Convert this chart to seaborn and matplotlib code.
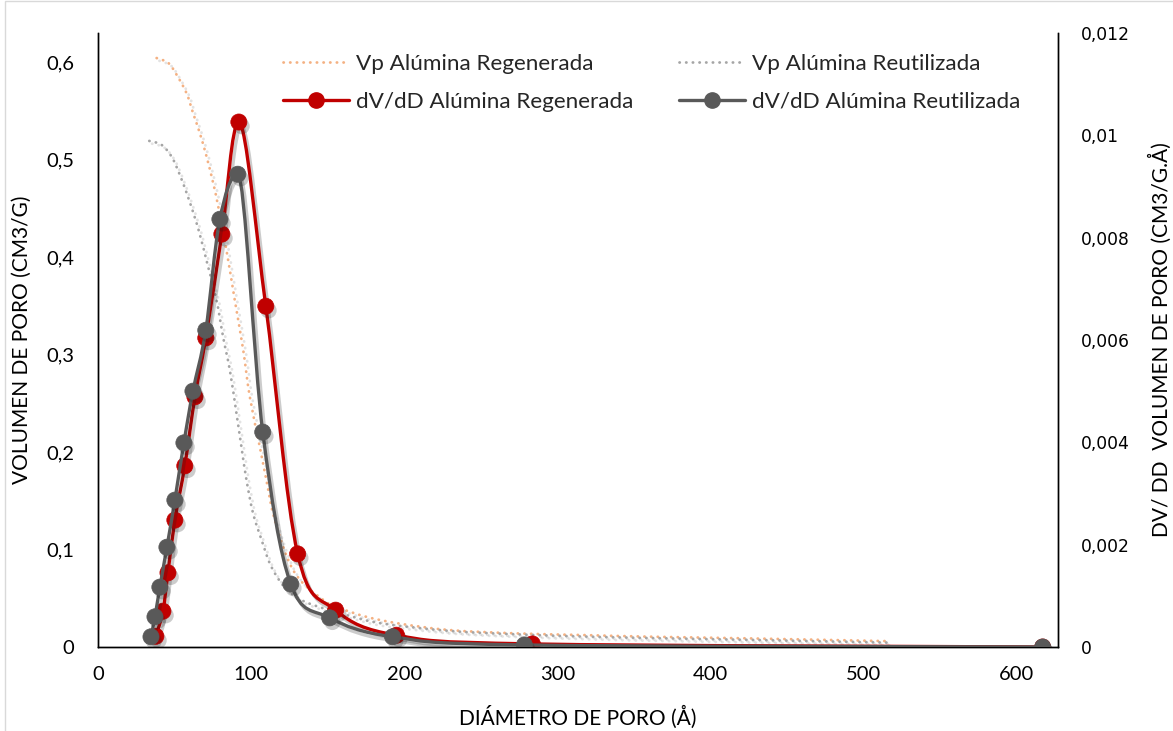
import numpy as np
import pandas as pd
import matplotlib
matplotlib.use("Agg")
import matplotlib.pyplot as plt
import matplotlib.patheffects as pe
from matplotlib.path import Path
from matplotlib.patches import PathPatch, Rectangle
from matplotlib.lines import Line2D
from matplotlib.ticker import FixedLocator, FuncFormatter
import seaborn as sns

# ---- pore size distribution, dV/dD (cm3/g.Å) vs pore diameter (Å) ----
d_regen = [37.8, 42.4, 45.7, 50.2, 56.7, 63.3, 70.4, 80.9, 92.0, 109.6, 130.4,
           155.2, 195.0, 283.7, 617.0]
dvdd_regen = [0.00021, 0.00070, 0.00145, 0.00248, 0.00354, 0.00489, 0.00604,
              0.00807, 0.01026, 0.00666, 0.00182, 0.00072, 0.00023, 0.00006, 0.0]

d_reuse = [34.6, 37.2, 40.4, 45.0, 50.2, 56.1, 62.0, 70.4, 79.6, 91.3, 107.6,
           125.9, 151.3, 192.4, 278.5, 617.0]
dvdd_reuse = [0.00020, 0.00059, 0.00117, 0.00195, 0.00287, 0.00399, 0.00500,
              0.00619, 0.00836, 0.00924, 0.00420, 0.00123, 0.00057, 0.00020,
              0.00004, 0.0]

# ---- cumulative pore volume Vp (cm3/g) vs pore diameter (Å) ----
vp_d_regen = [38.3, 45.9, 51.3, 57.8, 62.2, 66.5, 70.9, 75.2, 78.5, 83.9, 89.3,
              94.8, 99.1, 105.7, 110.0, 114.3, 120.9, 127.4, 136.1, 149.2,
              155.7, 175.2, 197.0, 229.6, 273.0, 316.0, 360.0, 420.0, 517.0]
vp_regen = [0.604, 0.599, 0.587, 0.568, 0.547, 0.527, 0.503, 0.476, 0.452,
            0.407, 0.356, 0.305, 0.257, 0.205, 0.171, 0.137, 0.103, 0.079,
            0.062, 0.046, 0.041, 0.031, 0.024, 0.0174, 0.014, 0.0123, 0.0106,
            0.0090, 0.0060]

vp_d_reuse = [33.5, 41.5, 48.0, 53.5, 60.0, 66.0, 71.9, 77.4, 81.7, 86.1, 90.4,
              93.7, 97.0, 101.3, 106.8, 113.0, 122.0, 132.0, 142.6, 164.0,
              186.0, 229.6, 273.0, 316.0, 360.0, 420.0, 517.0]
vp_reuse = [0.519, 0.515, 0.503, 0.484, 0.456, 0.426, 0.390, 0.356, 0.318,
            0.284, 0.240, 0.205, 0.171, 0.137, 0.110, 0.083, 0.061, 0.049,
            0.042, 0.032, 0.024, 0.0165, 0.013, 0.0108, 0.0092, 0.0075, 0.0045]

x_ticks = [0, 100, 200, 300, 400, 500, 600]
vp_ticks = [0, 0.1, 0.2, 0.3, 0.4, 0.5, 0.6]
dv_ticks = [0, 0.002, 0.004, 0.006, 0.008, 0.010, 0.012]

labels = {
    "vp_regen": "Vp Alúmina Regenerada",
    "vp_reuse": "Vp Alúmina Reutilizada",
    "dv_regen": "dV/dD Alúmina Regenerada",
    "dv_reuse": "dV/dD Alúmina Reutilizada",
}

RED = "#C00000"
DARK = "#595959"
ORANGE = "#F4B183"
LGRAY = "#A5A5A5"

sns.set_theme(style="white")
plt.rcParams["font.family"] = ["Lato", "DejaVu Sans"]

fig = plt.figure(figsize=(11.73, 7.31), dpi=100)
ax = fig.add_axes([98 / 1173, 84 / 731, 960 / 1173, 614 / 731])
ax2 = ax.twinx()


def smooth_path(x, y):
    """Smoothed Bezier path through the points; flat tangents at local extrema."""
    pts = np.column_stack([x, y]).astype(float)
    n = len(pts)
    tang = np.zeros_like(pts)
    for i in range(n):
        a = pts[i - 1] if i > 0 else pts[i]
        b = pts[i + 1] if i < n - 1 else pts[i]
        tang[i] = (b - a) / 2.0
        if 0 < i < n - 1:
            dy0 = pts[i, 1] - pts[i - 1, 1]
            dy1 = pts[i + 1, 1] - pts[i, 1]
            if dy0 * dy1 < 0:
                tang[i, 1] = 0.0
    verts = [pts[0]]
    codes = [Path.MOVETO]
    for i in range(n - 1):
        verts += [pts[i] + tang[i] / 3.0, pts[i + 1] - tang[i + 1] / 3.0, pts[i + 1]]
        codes += [Path.CURVE4] * 3
    return Path(verts, codes)


dot_style = dict(linestyle=(0, (0.1, 2.3)), capstyle="round")
soft_shadow = [pe.SimpleLineShadow(offset=(2, -2), shadow_color="k", alpha=0.12),
               pe.Normal()]
line_shadow = [pe.SimpleLineShadow(offset=(2, -3), shadow_color="k", alpha=0.22),
               pe.Normal()]

# cumulative volume curves (left axis)
for xs, ys, col in [(vp_d_regen, vp_regen, ORANGE), (vp_d_reuse, vp_reuse, LGRAY)]:
    patch = PathPatch(smooth_path(xs, ys), fill=False, edgecolor=col, lw=2.0,
                      **dot_style)
    patch.set_path_effects(soft_shadow)
    ax.add_patch(patch)

# distribution curves (right axis)
df_regen = pd.DataFrame({"d": d_regen, "dv": dvdd_regen})
df_reuse = pd.DataFrame({"d": d_reuse, "dv": dvdd_reuse})
for df, col, z in [(df_regen, RED, 3), (df_reuse, DARK, 4)]:
    patch = PathPatch(smooth_path(df["d"], df["dv"]), fill=False, edgecolor=col,
                      lw=2.4, zorder=z, capstyle="round", joinstyle="round")
    patch.set_path_effects(line_shadow)
    ax2.add_patch(patch)
    sns.scatterplot(data=df, x="d", y="dv", ax=ax2, color=col, s=135,
                    edgecolor=col, linewidth=0.5, zorder=z + 0.5, legend=False)
    ax2.collections[-1].set_path_effects(
        [pe.SimplePatchShadow(offset=(2, -3), shadow_rgbFace="k", alpha=0.22),
         pe.Normal()])

# axes ranges and ticks
ax.set_xlim(0, 627)
ax.set_ylim(0, 0.6297)
ax2.set_ylim(0, 0.012)
ax.xaxis.set_major_locator(FixedLocator(x_ticks))
ax.yaxis.set_major_locator(FixedLocator(vp_ticks))
ax2.yaxis.set_major_locator(FixedLocator(dv_ticks))


def comma_fmt(v, _pos=None):
    return f"{round(v, 4):g}".replace(".", ",")


ax.xaxis.set_major_formatter(FuncFormatter(lambda v, p: f"{v:g}"))
ax.yaxis.set_major_formatter(FuncFormatter(comma_fmt))
ax2.yaxis.set_major_formatter(FuncFormatter(comma_fmt))

ax.tick_params(axis="x", length=0, pad=13.5, labelsize=14.5, colors="#000000")
ax.tick_params(axis="y", length=0, pad=17, labelsize=14.5, colors="#000000")
ax2.tick_params(axis="y", length=0, pad=16.5, labelsize=12.3, colors="#000000")
for t in ax2.get_yticklabels():
    t.set_fontfamily("DejaVu Sans")

for a in (ax, ax2):
    for side, sp in a.spines.items():
        sp.set_visible(side in ("left", "bottom", "right"))
        sp.set_color("#000000")
        sp.set_linewidth(1.0)
    a.grid(False)
    a.set_facecolor("none")

title_font = dict(family=["Liberation Sans Narrow", "Lato", "DejaVu Sans"],
                  size=15, color="#000000")
ax.set_xlabel("DIÁMETRO DE PORO (Å)", **title_font)
ax.set_ylabel("VOLUMEN DE PORO (CM3/G)", **title_font)
ax2.set_ylabel("DV/ DD  VOLUMEN DE PORO (CM3/G.Å)", **title_font)
ax.xaxis.set_label_coords(0.5, -0.114)
ax.xaxis.label.set_va("center")
ax.yaxis.set_label_coords(-0.0792, 0.5)
ax.yaxis.label.set_va("center")
ax2.yaxis.set_label_coords(1.106, 0.5)
ax2.yaxis.label.set_va("center")

# legend
dot_handle = dict(lw=2.0, linestyle=(0, (0.1, 2.3)), dash_capstyle="round")
h_vp_regen = Line2D([], [], color=ORANGE, **dot_handle)
h_vp_reuse = Line2D([], [], color=LGRAY, **dot_handle)
h_dv_regen = Line2D([], [], color=RED, lw=2.4, marker="o", markersize=11)
h_dv_reuse = Line2D([], [], color=DARK, lw=2.4, marker="o", markersize=11)
fig.legend([h_vp_regen, h_dv_regen, h_vp_reuse, h_dv_reuse],
           [labels["vp_regen"], labels["dv_regen"], labels["vp_reuse"], labels["dv_reuse"]],
           loc="upper left", bbox_to_anchor=(283 / 1173, 1 - 54 / 731), ncol=2,
           frameon=False, fontsize=16.2, handlelength=2.95, handletextpad=0.3,
           columnspacing=2.0, labelspacing=0.78, borderpad=0, borderaxespad=0)

# chart area border
fig.patches.append(Rectangle((5 / 1173, -0.05), 1.2, 1.05 - 1.5 / 731,
                             transform=fig.transFigure, fill=False,
                             edgecolor="#D9D9D9", lw=1.0))

fig.savefig("out.png", dpi=100, facecolor="white")
